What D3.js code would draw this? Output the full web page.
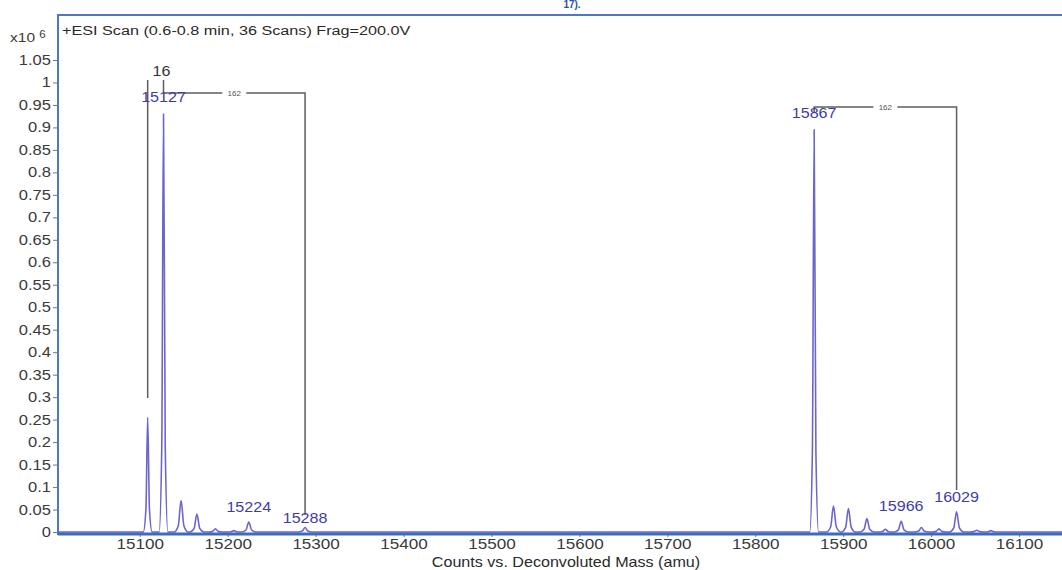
<!DOCTYPE html>
<html>
<head>
<meta charset="utf-8">
<script src="https://cdn.jsdelivr.net/npm/d3@7"></script>
<style>
  html, body { margin: 0; padding: 0; background: #fff; }
  svg { display: block; font-family: "Liberation Sans", Arial, sans-serif; }
</style>
</head>
<body>
<svg id="chart" width="1062" height="570"></svg>
<script>
// deconvoluted spectrum, intensities in counts x10^6
const peakMass = [15109, 15127, 15147, 15165, 15186, 15207, 15224, 15288,
  15867, 15889, 15906, 15927, 15948, 15966, 15989, 16009, 16029, 16052, 16068];
const peakIntensity = [0.255, 0.93, 0.07, 0.04, 0.007, 0.003, 0.022, 0.01,
  0.895, 0.058, 0.052, 0.03, 0.006, 0.024, 0.01, 0.007, 0.045, 0.004, 0.003];
const labeledPeaks = [15127, 15224, 15288, 15867, 15966, 16029];

const xTicks = [15100, 15200, 15300, 15400, 15500, 15600, 15700, 15800, 15900, 16000, 16100];
const yTicks = [0, 0.05, 0.1, 0.15, 0.2, 0.25, 0.3, 0.35, 0.4, 0.45, 0.5,
  0.55, 0.6, 0.65, 0.7, 0.75, 0.8, 0.85, 0.9, 0.95, 1, 1.05];

const titleText = "+ESI Scan (0.6-0.8 min, 36 Scans) Frag=200.0V";
const xAxisTitle = "Counts vs. Deconvoluted Mass (amu)";

const width = 1062;
const height = 570;
const plotLeft = 58, plotTop = 15, plotBottom = 534;

const x = d3.scaleLinear().domain([15007, 16158]).range([plotLeft, 1070]);
const y = d3.scaleLinear().domain([0, 1.05]).range([532, 60]);

const svg = d3.select('#chart');

// cropped caption from the page above
svg.append('text')
  .attr('x', 572).attr('y', 8)
  .attr('text-anchor', 'middle')
  .attr('fill', '#2d4fa6')
  .style('font-size', '10px')
  .style('font-weight', 'bold')
  .text('17).');

// spectrum
const peaks = peakMass.map((m, i) => ({ mass: m, value: peakIntensity[i] }));
const line = d3.line()
  .x((d) => x(d[0]))
  .y((d) => y(d[1]))
  .curve(d3.curveMonotoneX);

svg.append('clipPath').attr('id', 'plot-clip')
  .append('rect')
  .attr('x', plotLeft).attr('y', plotTop)
  .attr('width', width - plotLeft).attr('height', plotBottom - plotTop);

const plot = svg.append('g').attr('clip-path', 'url(#plot-clip)');

const pts = [[x.domain()[0], 0]];
peaks.forEach((p) => {
  const hw = p.value > 0.2 ? 5 : 8;
  pts.push([p.mass - hw, 0], [p.mass - hw * 0.4, p.value * 0.2], [p.mass, p.value],
    [p.mass + hw * 0.4, p.value * 0.2], [p.mass + hw, 0]);
});
pts.push([x.domain()[1], 0]);

plot.append('path')
  .attr('d', line(pts))
  .attr('fill', 'none')
  .attr('stroke', '#6b66cf')
  .attr('stroke-width', 1.6);

// bracket annotations
const annot = svg.append('g')
  .attr('fill', 'none')
  .attr('stroke', '#5e5e5e')
  .attr('stroke-width', 1.5);

annot.append('line')
  .attr('x1', x(15109)).attr('x2', x(15109))
  .attr('y1', 80).attr('y2', 398);

annot.append('path')
  .attr('d', `M${x(15127)},80 V93 H${x(15288)} V515`);

annot.append('path')
  .attr('d', `M${x(15867)},112 V107 H${x(16029)} V490`);

svg.append('rect')
  .attr('x', (x(15127) + x(15288)) / 2 - 12).attr('y', 88)
  .attr('width', 24).attr('height', 10).attr('fill', '#fff');
svg.append('rect')
  .attr('x', (x(15867) + x(16029)) / 2 - 12).attr('y', 102)
  .attr('width', 24).attr('height', 10).attr('fill', '#fff');

svg.append('text')
  .attr('x', (x(15127) + x(15288)) / 2).attr('y', 96)
  .attr('text-anchor', 'middle').attr('fill', '#555')
  .style('font-size', '8px').text('162');
svg.append('text')
  .attr('x', (x(15867) + x(16029)) / 2).attr('y', 110)
  .attr('text-anchor', 'middle').attr('fill', '#555')
  .style('font-size', '8px').text('162');

svg.append('text')
  .attr('transform', `translate(${x(15127) - 2},76) scale(1.15,1)`)
  .attr('text-anchor', 'middle').attr('fill', '#333')
  .style('font-size', '14px').text('16');

// peak labels
const labelOffset = { 15127: 12, 15224: 10, 15288: 5, 15867: 12, 15966: 10, 16029: 10 };
svg.append('g')
  .selectAll('text')
  .data(peaks.filter((p) => labeledPeaks.includes(p.mass)))
  .enter()
  .append('text')
  .attr('transform', (d) => `translate(${x(d.mass)},${y(d.value) - labelOffset[d.mass]}) scale(1.15,1)`)
  .attr('text-anchor', 'middle')
  .attr('fill', '#3f3ca9')
  .style('font-size', '14px')
  .text((d) => d.mass);

// axes
const yAxis = svg.append('g')
  .attr('transform', `translate(${plotLeft},0)`)
  .call(d3.axisLeft(y).tickValues(yTicks).tickSize(5).tickPadding(1)
    .tickFormat(d3.format('~g')));
yAxis.select('.domain').remove();
yAxis.selectAll('line').attr('stroke', '#777');
yAxis.selectAll('text')
  .attr('fill', '#3a3a3a')
  .style('font-size', '14px')
  .attr('transform', 'scale(1.18,1)');

const xAxis = svg.append('g')
  .attr('transform', `translate(0,${plotBottom})`)
  .call(d3.axisBottom(x).tickValues(xTicks).tickSize(3).tickPadding(2)
    .tickFormat(d3.format('d')));
xAxis.select('.domain').remove();
xAxis.selectAll('line').attr('stroke', '#777');
xAxis.selectAll('text')
  .attr('fill', '#3a3a3a')
  .style('font-size', '14px')
  .attr('transform', 'scale(1.22,1)');

// plot frame
svg.append('path')
  .attr('d', `M${width},${plotTop} H${plotLeft} V${plotBottom} H${width}`)
  .attr('fill', 'none')
  .attr('stroke', '#4d77c9')
  .attr('stroke-width', 2);
svg.append('line')
  .attr('x1', plotLeft).attr('x2', width)
  .attr('y1', plotBottom).attr('y2', plotBottom)
  .attr('stroke', '#3d69c2').attr('stroke-width', 3);

svg.append('text')
  .attr('transform', 'translate(62,35) scale(1.2,1)')
  .attr('fill', '#2a2a2a')
  .style('font-size', '13.5px')
  .text(titleText);

const exp = svg.append('text')
  .attr('transform', 'translate(10,42) scale(1.15,1)')
  .attr('fill', '#3a3a3a')
  .style('font-size', '13.5px');
exp.append('tspan').text('x10 ');
exp.append('tspan').attr('dy', -4).style('font-size', '10px').text('6');

svg.append('text')
  .attr('transform', 'translate(566,567) scale(1.15,1)')
  .attr('text-anchor', 'middle')
  .attr('fill', '#2a2a2a')
  .style('font-size', '14px')
  .text(xAxisTitle);
</script>
</body>
</html>
